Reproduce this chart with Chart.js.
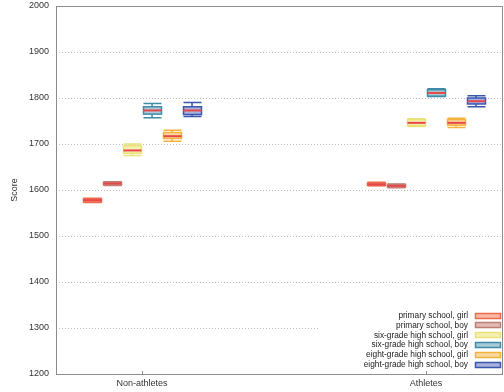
<!DOCTYPE html>
<html>
<head>
<meta charset="utf-8">
<script src="https://cdn.jsdelivr.net/npm/chart.js@4.4.0/dist/chart.umd.min.js"></script>
<style>
  html, body { margin: 0; padding: 0; background: #fff; }
  #wrap { width: 504px; height: 392px; }
</style>
</head>
<body>
<div id="wrap"><canvas id="myChart" width="504" height="392"></canvas></div>
<script>
// categorias del eje x
const categorias = ['Non-athletes', 'Athletes'];
// nombres de las series
const series = [
  'primary school, girl',
  'primary school, boy',
  'six-grade high school, girl',
  'six-grade high school, boy',
  'eight-grade high school, girl',
  'eight-grade high school, boy'
];
// cada caja: [min, q1, mediana, q3, max] para Non-athletes y Athletes
const primariaNina = [[1573, 1574, 1578, 1581, 1582], [1609, 1610, 1612, 1615, 1617]];
const primariaNino = [[1610, 1611, 1614, 1617, 1618], [1605, 1606, 1609, 1612, 1613]];
const sextoNina    = [[1675, 1680, 1686, 1696, 1700], [1738, 1740, 1746, 1753, 1755]];
const sextoNino    = [[1757, 1765, 1773, 1781, 1788], [1803, 1804, 1811, 1818, 1820]];
const octavoNina   = [[1706, 1712, 1717, 1725, 1730], [1736, 1741, 1746, 1753, 1756]];
const octavoNino   = [[1760, 1764, 1773, 1781, 1790], [1781, 1787, 1793, 1800, 1805]];
// etiquetas del eje y
const ticksY = [1200, 1300, 1400, 1500, 1600, 1700, 1800, 1900, 2000];

const datosSeries = [primariaNina, primariaNino, sextoNina, sextoNino, octavoNina, octavoNino];

// colores (borde, relleno)
const bordes = ['#ee6a4c', '#c07f74', '#e9e27a', '#3f8aa6', '#f2b23c', '#3a56ad'];
const rellenos = ['#f7b9a6', '#e2bcb3', '#f6f1b2', '#a9cbd8', '#fad9a0', '#a7b1dd'];
const colorMediana = '#e8474a';

const SEPARACION = 0.0704; // distancia entre cajas dentro de una categoria
const ANCHO_CAJA = 18;

// dibuja grilla punteada y marco
const fondo = {
  id: 'fondo',
  beforeDatasetsDraw(chart) {
    const { ctx, chartArea: a, scales: { x, y } } = chart;
    ctx.save();
    ctx.strokeStyle = '#bdbdbd';
    ctx.lineWidth = 1;
    ctx.setLineDash([1, 2]);
    y.ticks.forEach(t => {
      if (t.value === y.min || t.value === y.max) return;
      const py = Math.round(y.getPixelForValue(t.value)) + 0.5;
      ctx.beginPath();
      ctx.moveTo(a.left, py);
      ctx.lineTo(a.right, py);
      ctx.stroke();
    });
    ctx.setLineDash([]);
    ctx.strokeStyle = '#8c8c8c';
    ctx.strokeRect(Math.round(a.left) + 0.5, Math.round(a.top) + 0.5, Math.round(a.right - a.left) - 1, Math.round(a.bottom - a.top));
    x.ticks.forEach(t => {
      const px = Math.round(x.getPixelForValue(t.value)) + 0.5;
      ctx.beginPath();
      ctx.moveTo(px, a.bottom);
      ctx.lineTo(px, a.bottom - 3);
      ctx.stroke();
    });
    ctx.restore();
  }
};

// dibuja las cajas con bigotes y mediana
const cajas = {
  id: 'cajas',
  afterDatasetsDraw(chart) {
    const { ctx, scales: { x, y } } = chart;
    ctx.save();
    chart.data.datasets.forEach((ds, i) => {
      ds.estadisticas.forEach((s, j) => {
        const cx = x.getPixelForValue(j + (i - 2.5) * SEPARACION);
        const l = Math.round(cx - ANCHO_CAJA / 2) + 0.5;
        const r = l + ANCHO_CAJA;
        const [lo, q1, med, q3, hi] = s.map(v => y.getPixelForValue(v));
        ctx.strokeStyle = ds.borderColor;
        ctx.lineWidth = 1.5;
        ctx.beginPath();
        ctx.moveTo(cx, hi); ctx.lineTo(cx, q3);
        ctx.moveTo(cx, q1); ctx.lineTo(cx, lo);
        ctx.moveTo(l, hi); ctx.lineTo(r, hi);
        ctx.moveTo(l, lo); ctx.lineTo(r, lo);
        ctx.stroke();
        ctx.fillStyle = ds.backgroundColor;
        ctx.fillRect(l, q3, ANCHO_CAJA, q1 - q3);
        ctx.strokeRect(l, q3, ANCHO_CAJA, q1 - q3);
        ctx.strokeStyle = colorMediana;
        ctx.lineWidth = 2;
        ctx.beginPath();
        ctx.moveTo(l, med); ctx.lineTo(r, med);
        ctx.stroke();
      });
    });
    ctx.restore();
  }
};

// leyenda abajo a la derecha, texto a la izquierda de la muestra
const leyenda = {
  id: 'leyenda',
  afterDraw(chart) {
    const { ctx, chartArea: a } = chart;
    const n = chart.data.datasets.length;
    const alto = 9.9;
    const yBase = a.bottom - 9 - (n - 1) * alto;
    ctx.save();
    ctx.fillStyle = '#fff';
    ctx.fillRect(320, yBase - 6, a.right - 321, (n - 1) * alto + 12);
    ctx.font = '8.3px "Liberation Sans", Arial, sans-serif';
    ctx.textAlign = 'right';
    ctx.textBaseline = 'middle';
    chart.data.datasets.forEach((ds, i) => {
      const py = yBase + i * alto;
      ctx.fillStyle = '#222';
      ctx.fillText(ds.label, a.right - 35, py);
      ctx.fillStyle = ds.backgroundColor;
      ctx.fillRect(475.5, Math.round(py) - 2.5, 25, 5);
      ctx.strokeStyle = ds.borderColor;
      ctx.lineWidth = 1.5;
      ctx.strokeRect(475.5, Math.round(py) - 2.5, 25, 5);
    });
    ctx.restore();
  }
};

const datasets = series.map((nombre, i) => ({
  label: nombre,
  estadisticas: datosSeries[i],
  data: datosSeries[i].map((s, j) => ({ x: j + (i - 2.5) * SEPARACION, y: s[2] })),
  borderColor: bordes[i],
  backgroundColor: rellenos[i],
  pointRadius: 0,
  showLine: false
}));

const fuente = { family: '"Liberation Sans", Arial, sans-serif', size: 9 };

new Chart(document.getElementById('myChart'), {
  type: 'scatter',
  data: { datasets },
  plugins: [fondo, cajas, leyenda],
  options: {
    responsive: false,
    animation: false,
    devicePixelRatio: 1,
    layout: { padding: { top: 6, right: 1, left: 0, bottom: 0 } },
    plugins: { legend: { display: false }, tooltip: { enabled: false } },
    scales: {
      x: {
        type: 'linear',
        min: -0.303,
        max: 1.271,
        afterBuildTicks: axis => { axis.ticks = categorias.map((c, i) => ({ value: i })); },
        afterFit: axis => { axis.height = 18; axis.paddingLeft = 0; axis.paddingRight = 0; },
        ticks: { callback: v => categorias[v], font: fuente, color: '#333', padding: 4, maxRotation: 0, autoSkip: false },
        grid: { display: false, drawTicks: false },
        border: { display: false }
      },
      y: {
        min: 1200,
        max: 2000,
        afterBuildTicks: axis => { axis.ticks = ticksY.map(v => ({ value: v })); },
        afterFit: axis => { axis.width = 56; axis.paddingTop = 0; axis.paddingBottom = 0; },
        ticks: { callback: v => String(v), font: fuente, color: '#333', padding: 7 },
        grid: { display: false, drawTicks: false },
        border: { display: false },
        title: { display: true, text: 'Score', font: fuente, color: '#333', padding: { top: 9, bottom: 0 } }
      }
    }
  }
});
</script>
</body>
</html>
